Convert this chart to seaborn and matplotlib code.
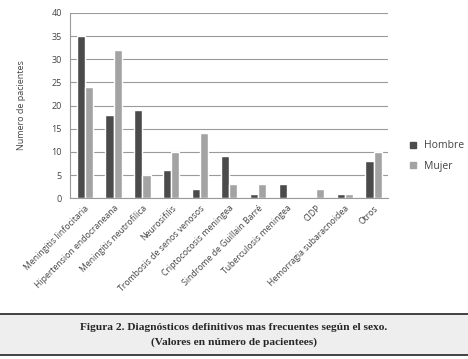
import pandas as pd
import matplotlib.pyplot as plt
import seaborn as sns
from matplotlib.lines import Line2D

# Data
diagnosticos = ['Meningitis linfocitaria', 'Hipertension endocraneana', 'Meningitis neutrofilica',
                'Neurosifilis', 'Trombosis de senos venosos', 'Criptococosis meningea',
                'Sindrome de Guillain Barré', 'Tuberculosis meningea', 'CIDP',
                'Hemorragia subaracnoidea', 'Otros']
hombre = [35, 18, 19, 6, 2, 9, 1, 3, 0, 1, 8]
mujer = [24, 32, 5, 10, 14, 3, 3, 0, 2, 1, 10]
sexos = ['Hombre', 'Mujer']
y_ticks = [0, 5, 10, 15, 20, 25, 30, 35, 40]

df = pd.DataFrame({'Diagnostico': diagnosticos * 2,
                   'Sexo': ['Hombre'] * len(hombre) + ['Mujer'] * len(mujer),
                   'Pacientes': hombre + mujer})

sns.set_style('white')
plt.rcParams['font.family'] = ['Open Sans', 'DejaVu Sans']

fig = plt.figure(figsize=(4.68, 3.59), dpi=100)
ax = fig.add_axes([0.150, 0.448, 0.679, 0.516])

sns.barplot(data=df, x='Diagnostico', y='Pacientes', hue='Sexo', order=diagnosticos,
            hue_order=sexos, palette=['#4b4b4b', '#a3a3a3'], width=0.56,
            saturation=1, ax=ax, legend=False)

ax.set_ylim(0, 40)
ax.set_xlim(-0.5, len(diagnosticos) - 0.5)
ax.set_yticks(y_ticks)
ax.yaxis.grid(True, color='#9a9a9a', linewidth=0.8)
ax.set_axisbelow(True)
ax.tick_params(axis='y', labelsize=6.5, colors='#444444', length=0, pad=6)
ax.set_ylabel('Numero de pacientes', fontsize=6.5, color='#444444', labelpad=18)
ax.set_xlabel('')

ax.set_xticks(range(len(diagnosticos)))
ax.set_xticklabels(diagnosticos, rotation=45, ha='right', rotation_mode='anchor',
                   fontsize=6.2, color='#444444')
ax.tick_params(axis='x', length=0, pad=4)
ax.set_xticks([i - 0.5 for i in range(len(diagnosticos) + 1)], minor=True)
ax.tick_params(axis='x', which='minor', length=3, color='#9a9a9a', width=0.8)

for side in ['top', 'right']:
    ax.spines[side].set_visible(False)
ax.spines['left'].set_color('#9a9a9a')
ax.spines['bottom'].set_color('#9a9a9a')

handles = [Line2D([0], [0], marker='s', linestyle='', markersize=5,
                  markerfacecolor=c, markeredgecolor=c) for c in ['#4b4b4b', '#a3a3a3']]
fig.legend(handles, sexos, loc='center left', bbox_to_anchor=(0.84, 0.565),
           frameon=False, fontsize=7.5, handletextpad=0.1, labelspacing=0.9,
           labelcolor='#444444')

# caption box
cap = fig.add_axes([0, 0.011, 1, 0.115])
cap.set_facecolor('#eeeeee')
cap.set_xticks([])
cap.set_yticks([])
for side in ['left', 'right']:
    cap.spines[side].set_visible(False)
for side in ['top', 'bottom']:
    cap.spines[side].set_color('#222222')
    cap.spines[side].set_linewidth(1.2)
cap.text(0.5, 0.66, 'Figura 2. Diagnósticos definitivos mas frecuentes según el sexo.',
         ha='center', va='center', fontsize=8.2, fontweight='bold', family='Liberation Serif')
cap.text(0.5, 0.32, '(Valores en número de pacientees)',
         ha='center', va='center', fontsize=8.2, fontweight='bold', family='Liberation Serif')

fig.savefig('out.png', dpi=100)
